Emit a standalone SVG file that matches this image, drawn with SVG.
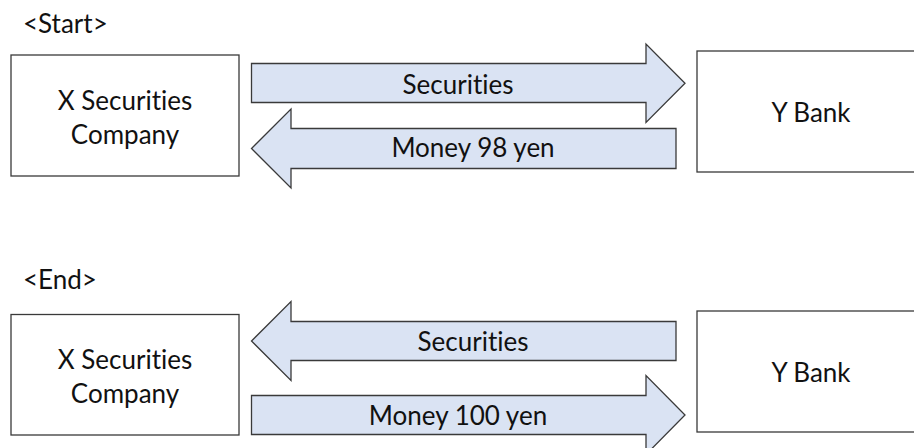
<svg xmlns="http://www.w3.org/2000/svg" width="914" height="448" viewBox="0 0 914 448">
<style>
.box{fill:#ffffff;stroke:#3a3a3a;stroke-width:1.3}
.arr{fill:#dae3f3;stroke:#3a3a3a;stroke-width:1.3;stroke-linejoin:miter}
text{font-family:Lato,"Open Sans","Liberation Sans",sans-serif;font-size:26px;fill:#111111;font-variant-ligatures:none;font-feature-settings:"liga" 0,"clig" 0}
.c{text-anchor:middle}
</style>
<rect width="914" height="448" fill="#ffffff"/>
<text id="start-label" x="23" y="33">&lt;Start&gt;</text>
<text id="end-label" x="23" y="289">&lt;End&gt;</text>

<g id="x-start">
<rect class="box" x="11" y="55" width="228" height="121"/>
<text class="c" x="125" y="109.5">X Securities</text>
<text class="c" x="125" y="143.5">Company</text>
</g>
<g id="y-start">
<rect class="box" x="697" y="51" width="230" height="121"/>
<text class="c" x="811" y="122">Y Bank</text>
</g>
<g id="x-end">
<rect class="box" x="11" y="314.5" width="228" height="120.5"/>
<text class="c" x="125" y="369">X Securities</text>
<text class="c" x="125" y="403">Company</text>
</g>
<g id="y-end">
<rect class="box" x="697" y="311" width="230" height="121"/>
<text class="c" x="811" y="382">Y Bank</text>
</g>

<g id="connectors">
<g id="start-securities">
<path class="arr" d="M251.5,63.5 H646 V44 L685,83.3 L646,122.5 V102.5 H251.5 Z"/>
<text class="c" x="458" y="93.5">Securities</text>
</g>
<g id="start-money">
<path class="arr" d="M676,128.5 H291 V109 L251.5,148.5 L291,188 V168.5 H676 Z"/>
<text class="c" x="473" y="157">Money 98 yen</text>
</g>
<g id="end-securities">
<path class="arr" d="M676,321.5 H291 V301.5 L251.5,341 L291,380.5 V360.5 H676 Z"/>
<text class="c" x="473" y="350.5">Securities</text>
</g>
<g id="end-money">
<path class="arr" d="M251.5,395.5 H646 V375.5 L685,415 L646,454.5 V434.5 H251.5 Z"/>
<text class="c" x="458" y="425">Money 100 yen</text>
</g>
</g>
</svg>
